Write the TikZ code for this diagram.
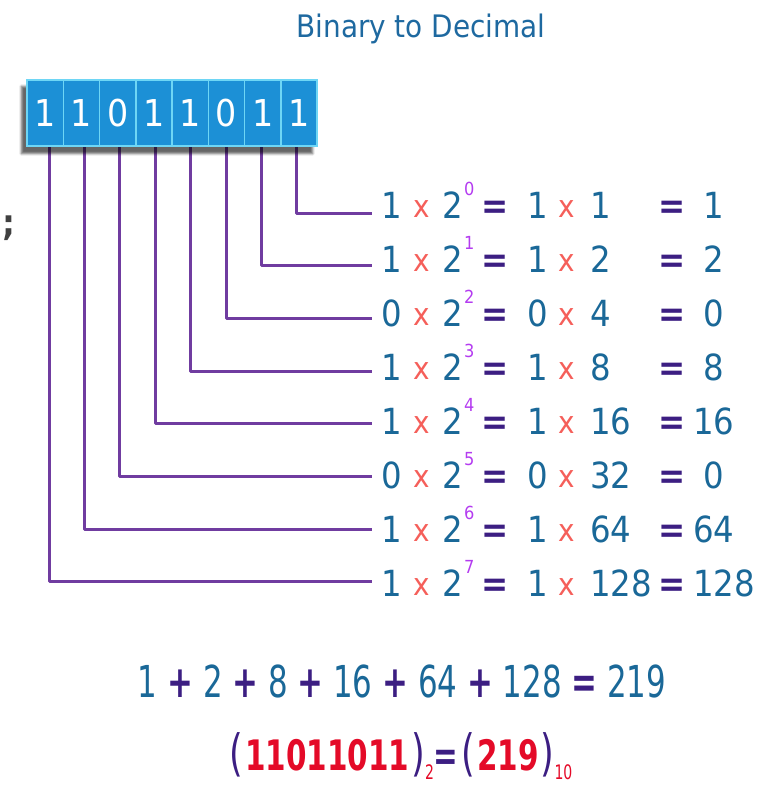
\documentclass[tikz,border=0pt]{standalone}
\usepackage{fontspec}
\setmainfont{DejaVu Sans Condensed}
\newfontfamily\narrowfont[FakeStretch=0.78]{DejaVu Sans Condensed}
\usetikzlibrary{shadows.blur}
\pgfdeclarelayer{background}
\pgfsetlayers{background,main}
\definecolor{numblue}{RGB}{26,104,152}
\definecolor{xred}{RGB}{245,95,90}
\definecolor{eqpurple}{RGB}{60,30,130}
\definecolor{supviolet}{RGB}{180,60,240}
\definecolor{wirepurple}{RGB}{112,60,160}
\definecolor{cellfill}{RGB}{28,144,214}
\definecolor{cellline}{RGB}{110,214,245}
\definecolor{titleblue}{RGB}{30,105,160}
\definecolor{cred}{RGB}{228,10,40}
\newcommand{\op}[1]{\textcolor{eqpurple}{\bfseries #1}}
\newcommand{\paren}[1]{\textcolor{eqpurple}{\fontsize{50}{50}\selectfont\mdseries #1}}
\newcommand{\lowsub}[1]{\raisebox{-9pt}{\fontsize{20}{20}\selectfont\mdseries\textcolor{cred}{#1}}}
\tikzset{
  bitcell/.style={draw=cellline,line width=1.5pt,fill=cellfill,minimum width=36.25pt,
    minimum height=66pt,inner sep=0pt,text=white,font=\fontsize{37}{40}\selectfont},
  wire/.style={draw=wirepurple,line width=3pt,line join=round},
  num/.style={text=numblue,inner sep=0pt,font=\fontsize{36}{40}\selectfont},
  times/.style={text=xred,inner sep=0pt,font=\fontsize{31}{34}\selectfont},
  eq/.style={text=eqpurple,inner sep=0pt,font=\fontsize{36}{40}\selectfont\bfseries},
  expo/.style={text=supviolet,inner sep=0pt,anchor=base west,font=\fontsize{18}{20}\selectfont},
  heading/.style={text=titleblue,inner sep=0pt,anchor=base,font=\fontsize{31}{34}\selectfont}
}

\begin{document}
\begin{tikzpicture}[x=1pt,y=-1pt]
\useasboundingbox (0,0) rectangle (759,787);

% Title
\node[heading] (title) at (421,37) {Binary to Decimal};

% Stray mark at the left edge
\node[text=black!75,inner sep=0pt,font=\fontsize{36}{40}\selectfont\bfseries] (semi) at (9,228) {;};

% The binary number, one cell per bit
\foreach \b [count=\i] in {1,1,0,1,1,0,1,1}
  \node[bitcell] (c\i) at ({27+36.25*\i-18.125},113) {\b};

% One row per bit: bit x 2^e = bit x power = value
\foreach \e/\b/\p/\r/\rx in {0/1/1/1/703, 1/1/2/2/703, 2/0/4/0/703, 3/1/8/8/703,
    4/1/16/16/693, 5/0/32/0/703, 6/1/64/64/693, 7/1/128/128/693}{
  \coordinate (k\e) at ({49+35.4*(7-\e)},{213+52.7*\e});
  \node[num,anchor=base west,inner xsep=9pt] (d\e) at (372,{218+54*\e}) {\b};
  \node[times,anchor=base] (xa\e) at (422,{217+54*\e}) {x};
  \node[num,anchor=base] (two\e) at (453,{218+54*\e}) {2};
  \node[expo] (s\e) at (464,{195+54*\e}) {\e};
  \node[eq,anchor=base] (ea\e) at (495,{218+54*\e}) {=};
  \node[num,anchor=base] (m\e) at (538,{218+54*\e}) {\b};
  \node[times,anchor=base] (xb\e) at (567,{217+54*\e}) {x};
  \node[num,anchor=base west] (p\e) at (590,{218+54*\e}) {\p};
  \node[eq,anchor=base] (eb\e) at (672,{218+54*\e}) {=};
  \node[num,anchor=base west] (r\e) at (\rx,{218+54*\e}) {\r};
}

% Connectors and box shadow, behind the cells
\begin{pgfonlayer}{background}
\foreach \e [evaluate=\e as \i using int(8-\e)] in {0,...,7}
  \draw[wire] (c\i.south -| k\e) -- (k\e) -- (d\e.west |- k\e);
\path[blur shadow={shadow xshift=-5pt,shadow yshift=-7pt,shadow opacity=60,shadow blur steps=6}]
  (c1.north west) rectangle (c8.south east);
\end{pgfonlayer}

% Sum of the values
\node[text=numblue,inner sep=0pt,anchor=base,font=\narrowfont\fontsize{44}{48}\selectfont] (sum) at (402,697)
  {1 \op{+} 2 \op{+} 8 \op{+} 16 \op{+} 64 \op{+} 128 \op{=} 219};

% Result
\node[text=cred,inner sep=0pt,anchor=base,font=\narrowfont\fontsize{42}{46}\selectfont\bfseries] (result) at (401,770)
  {\paren{(}\kern2pt 11011011\kern2pt\paren{)}\lowsub{2}\op{=}\kern3pt\paren{(}\kern2pt 219\kern2pt\paren{)}\lowsub{10}};

\end{tikzpicture}
\end{document}
